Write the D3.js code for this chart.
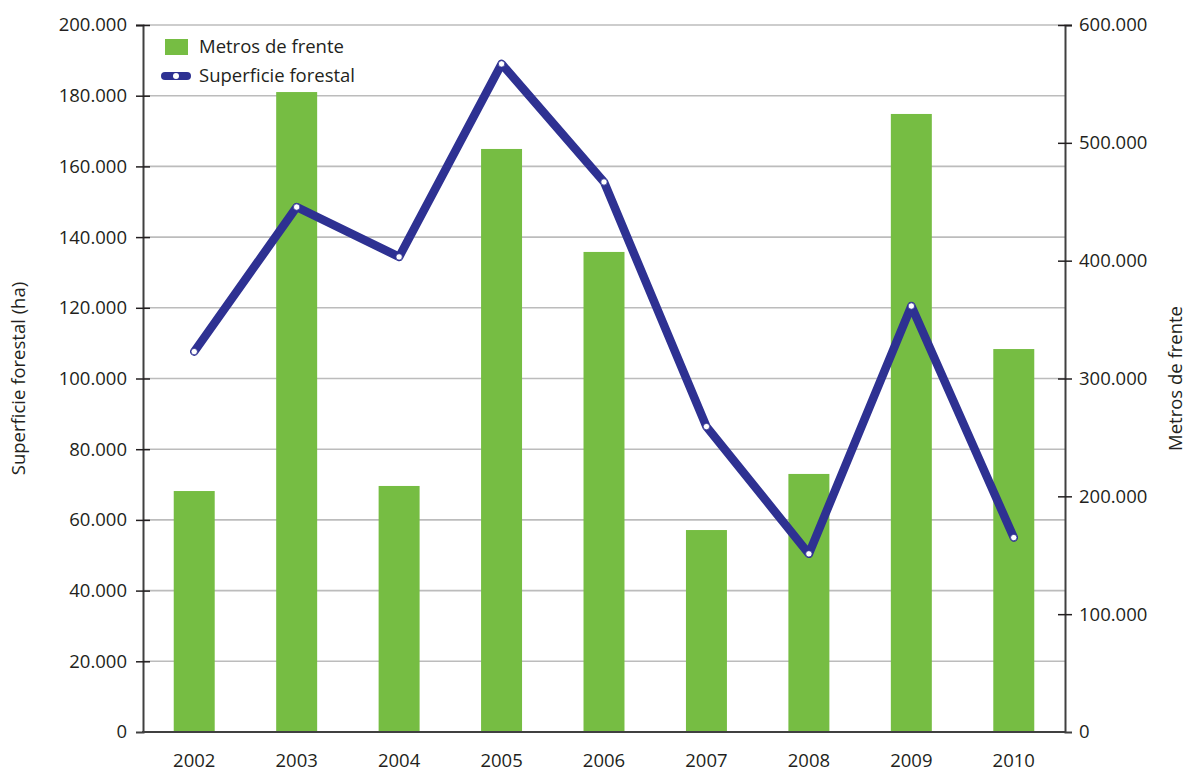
<!DOCTYPE html>
<html>
<head>
<meta charset="utf-8">
<script src="https://cdn.jsdelivr.net/npm/d3@7"></script>
<style>
  html, body { margin: 0; padding: 0; background: #fff; }
  svg text { font-family: "Open Sans", "Noto Sans", sans-serif; fill: #231f20; }
</style>
</head>
<body>
<svg id="chart" width="1186" height="772"></svg>
<script>
// Years on the category axis
const years = ["2002", "2003", "2004", "2005", "2006", "2007", "2008", "2009", "2010"];
// Metros de frente (right axis, bars)
const metrosFrente = [204500, 543100, 208800, 494800, 407400, 171400, 219000, 524500, 325000];
// Superficie forestal in ha (left axis, line)
const superficie = [107600, 148500, 134400, 189000, 155600, 86400, 50400, 120500, 55000];
// Axis tick values
const leftTicks = [0, 20000, 40000, 60000, 80000, 100000, 120000, 140000, 160000, 180000, 200000];
const rightTicks = [0, 100000, 200000, 300000, 400000, 500000, 600000];

const esLocale = d3.formatLocale({ decimal: ",", thousands: ".", grouping: [3], currency: ["", " €"] });
const fmt = esLocale.format(",d");
const FS = "18.5px";

const svg = d3.select("#chart");
const margin = { left: 143, right: 121, top: 25, bottom: 40 };
const W = 1186, H = 772;
const x0 = margin.left, x1 = W - margin.right;
const y0 = H - margin.bottom, y1 = margin.top;

const x = d3.scaleBand().domain(years).range([x0, x1]).paddingInner(0.6).paddingOuter(0.3);
const yL = d3.scaleLinear().domain([0, 200000]).range([y0, y1]);
const yR = d3.scaleLinear().domain([0, 600000]).range([y0, y1]);

// Horizontal grid following the left axis
svg.append("g")
  .selectAll("line")
  .data(leftTicks.filter(d => d > 0))
  .join("line")
  .attr("x1", x0).attr("x2", x1)
  .attr("y1", d => yL(d)).attr("y2", d => yL(d))
  .attr("stroke", "#bcbcbc").attr("stroke-width", 1.6);

// Bars: metros de frente
svg.append("g")
  .selectAll("rect")
  .data(years.map((y, i) => ({ y, v: metrosFrente[i] })))
  .join("rect")
  .attr("x", d => x(d.y))
  .attr("width", x.bandwidth())
  .attr("y", d => yR(d.v))
  .attr("height", d => y0 - yR(d.v))
  .attr("fill", "#76bd43");

// Line: superficie forestal
const pts = years.map((y, i) => ({ y, v: superficie[i] }));
const line = d3.line().x(d => x(d.y) + x.bandwidth() / 2).y(d => yL(d.v));
svg.append("path")
  .datum(pts)
  .attr("d", line)
  .attr("fill", "none")
  .attr("stroke", "#2e3192")
  .attr("stroke-width", 8.5)
  .attr("stroke-linejoin", "round")
  .attr("stroke-linecap", "round");
svg.append("g")
  .selectAll("circle")
  .data(pts)
  .join("circle")
  .attr("cx", d => x(d.y) + x.bandwidth() / 2)
  .attr("cy", d => yL(d.v))
  .attr("r", 3.2)
  .attr("fill", "#fff")
  .attr("stroke", "#2e3192")
  .attr("stroke-width", 0.8);

// Left axis
const axL = svg.append("g").attr("transform", `translate(${x0},0)`)
  .call(d3.axisLeft(yL).tickValues(leftTicks).tickFormat(fmt).tickSize(7).tickPadding(9));
axL.select(".domain").attr("stroke", "#404040").attr("stroke-width", 2);
axL.selectAll(".tick line").attr("x2", 7).attr("x1", -7).attr("stroke", "#231f20").attr("stroke-width", 1.5);
axL.selectAll(".tick text").attr("x", -16).style("font-size", FS);
axL.selectAll(".tick").filter(d => d === 0).select("line").remove();

// Right axis
const axR = svg.append("g").attr("transform", `translate(${x1},0)`)
  .call(d3.axisRight(yR).tickValues(rightTicks).tickFormat(fmt).tickSize(7).tickPadding(9));
axR.select(".domain").attr("stroke", "#404040").attr("stroke-width", 2);
axR.selectAll(".tick line").attr("x1", -7).attr("x2", 7).attr("stroke", "#231f20").attr("stroke-width", 1.5);
axR.selectAll(".tick text").attr("x", 14).style("font-size", FS);
axR.selectAll(".tick").filter(d => d === 0).select("line").remove();

// Bottom axis
const axB = svg.append("g").attr("transform", `translate(0,${y0})`)
  .call(d3.axisBottom(x).tickSize(0).tickPadding(22));
axB.select(".domain").attr("stroke", "#404040").attr("stroke-width", 2)
  .attr("d", `M${x0 - 1},0H${x1 + 1}`);
axB.selectAll(".tick text").style("font-size", FS);

// Axis titles
svg.append("text")
  .attr("transform", `translate(25,${(y0 + y1) / 2}) rotate(-90)`)
  .attr("text-anchor", "middle")
  .style("font-size", FS)
  .text("Superficie forestal (ha)");
svg.append("text")
  .attr("transform", `translate(1182,${(y0 + y1) / 2}) rotate(-90)`)
  .attr("text-anchor", "middle")
  .style("font-size", FS)
  .text("Metros de frente");

// Legend
const lg = svg.append("g");
lg.append("rect").attr("x", 165).attr("y", 39).attr("width", 23).attr("height", 16).attr("fill", "#76bd43");
lg.append("text").attr("x", 199).attr("y", 53).style("font-size", FS).text("Metros de frente");
lg.append("line").attr("x1", 165).attr("x2", 187).attr("y1", 76).attr("y2", 76)
  .attr("stroke", "#2e3192").attr("stroke-width", 8).attr("stroke-linecap", "round");
lg.append("circle").attr("cx", 176).attr("cy", 76).attr("r", 3).attr("fill", "#fff");
lg.append("text").attr("x", 199).attr("y", 82).style("font-size", FS).text("Superficie forestal");
</script>
</body>
</html>
